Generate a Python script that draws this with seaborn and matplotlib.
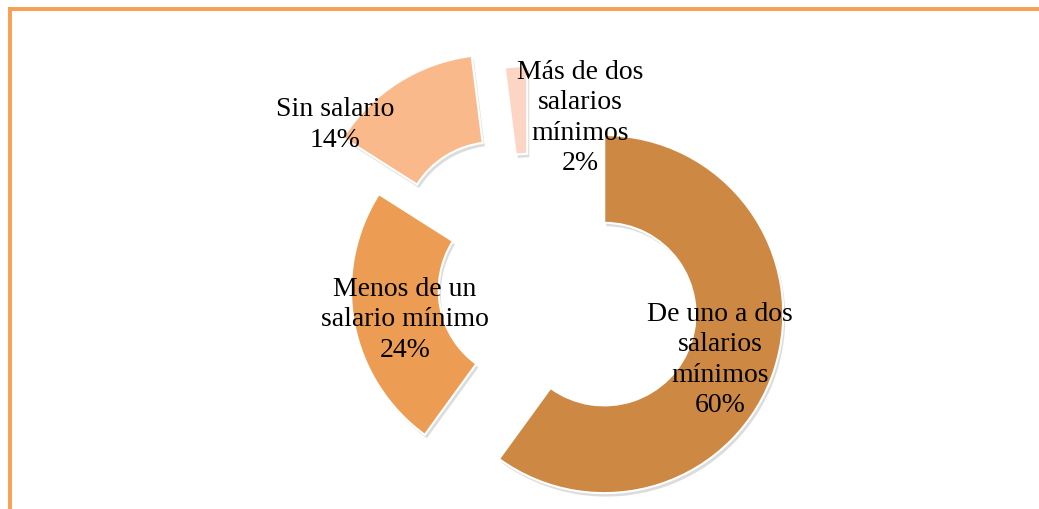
import matplotlib
matplotlib.use("Agg")
import matplotlib.pyplot as plt
import matplotlib.patheffects as pe
from matplotlib.lines import Line2D
import seaborn as sns

# datos del gráfico
categorias = [
    "De uno a dos\nsalarios\nmínimos",
    "Menos de un\nsalario mínimo",
    "Sin salario",
    "Más de dos\nsalarios\nmínimos",
]
porcentajes = [60, 24, 14, 2]

# estilo
colores = ["#CD8843", "#EC9D53", "#FAB98B", "#FCD5C4"]
separacion = [0.436, 0.0, 0.374, 0.251]
pos_etiquetas = [(1.061, -0.385), (-0.698, -0.162), (-1.089, 0.927), (0.279, 0.966)]

ESCALA = 179.0          # px por unidad de radio
CENTRO = (530.0, 291.0)  # centro en px (imagen)
ANCHO, ALTO = 1039, 510

sns.set_theme(style="white")
plt.rcParams["font.family"] = ["Liberation Serif", "DejaVu Serif"]

fig = plt.figure(figsize=(ANCHO / 100, ALTO / 100), dpi=100)
ax = fig.add_axes([0, 0, 1, 1])

wedges, _ = ax.pie(
    porcentajes, colors=colores, explode=separacion, startangle=90,
    counterclock=False, radius=1,
    wedgeprops=dict(width=0.49, edgecolor="white", linewidth=1.5),
)
for w in wedges:
    w.set_path_effects([
        pe.withSimplePatchShadow(offset=(1.5, -2.5), shadow_rgbFace="#777777", alpha=0.25)
    ])

for cat, pct, (x, y) in zip(categorias, porcentajes, pos_etiquetas):
    ax.text(x, y, f"{cat}\n{pct}%", ha="center", va="center",
            fontsize=20, color="black", linespacing=1.28)

ax.set_xlim(-CENTRO[0] / ESCALA, (ANCHO - CENTRO[0]) / ESCALA)
ax.set_ylim(-(ALTO - CENTRO[1]) / ESCALA, CENTRO[1] / ESCALA)
ax.set_aspect("auto")
ax.axis("off")

# marco naranja (arriba e izquierda)
borde = "#F7A052"
fig.add_artist(Line2D([8 / ANCHO, 1], [1 - 9.5 / ALTO, 1 - 9.5 / ALTO],
                      transform=fig.transFigure, color=borde, lw=2.8,
                      solid_capstyle="butt"))
fig.add_artist(Line2D([10 / ANCHO, 10 / ANCHO], [0, 1 - 8 / ALTO],
                      transform=fig.transFigure, color=borde, lw=2.8,
                      solid_capstyle="butt"))

fig.savefig("out.png", dpi=100)
plt.close(fig)
